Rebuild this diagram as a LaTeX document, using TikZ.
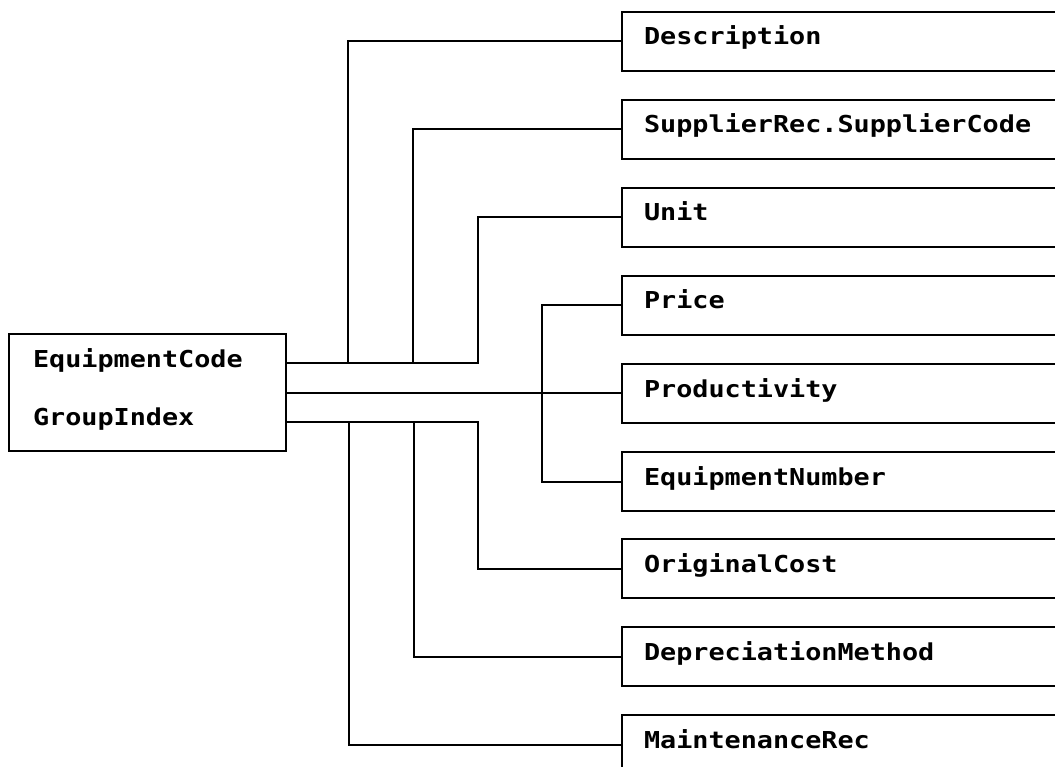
\documentclass[tikz,border=0pt]{standalone}
\usepackage{fontspec}
\newfontfamily\pixfont[FakeStretch=1.15]{DejaVu Sans Mono}
\begin{document}
\begin{tikzpicture}[x=1pt,y=1pt,
  line width=2pt,
  fieldbox/.style={draw, rectangle, anchor=north west, minimum width=520pt, minimum height=59pt, inner sep=0pt},
  srcbox/.style={draw, rectangle, anchor=north west, minimum width=277pt, minimum height=117pt, inner sep=0pt},
  lbl/.style={anchor=base west, inner sep=0pt, font=\pixfont\fontsize{23.3}{24}\selectfont\bfseries},
  conn/.style={line width=2pt}]
\useasboundingbox (0,0) rectangle (1055,-767);
\clip (0,0) rectangle (1055,-767);
\fill[white] (0,0) rectangle (1055,-767);
% source box
\node[srcbox] (src) at (8,-333) {};
\node[lbl] (srcA) at (32,-367) {EquipmentCode};
\node[lbl] (srcB) at (32,-425) {GroupIndex};
% field boxes
\node[fieldbox] (desc)  at (621,-11)  {};
\node[fieldbox] (supp)  at (621,-99)  {};
\node[fieldbox] (unit)  at (621,-187) {};
\node[fieldbox] (price) at (621,-275) {};
\node[fieldbox] (prod)  at (621,-363) {};
\node[fieldbox] (eqn)   at (621,-451) {};
\node[fieldbox] (orig)  at (621,-538) {};
\node[fieldbox] (depr)  at (621,-626) {};
\node[fieldbox] (maint) at (621,-714) {};
\node[lbl] (descL)  at (643,-45)  {Description};
\node[lbl] (suppL)  at (643,-133) {SupplierRec.SupplierCode};
\node[lbl] (unitL)  at (643,-221) {Unit};
\node[lbl] (priceL) at (643,-309) {Price};
\node[lbl] (prodL)  at (643,-397) {Productivity};
\node[lbl] (eqnL)   at (643,-485) {EquipmentNumber};
\node[lbl] (origL)  at (643,-572) {OriginalCost};
\node[lbl] (deprL)  at (643,-660) {DepreciationMethod};
\node[lbl] (maintL) at (643,-748) {MaintenanceRec};
% junction coordinates
\coordinate (jt) at (src.east |- 0,-363);
\coordinate (jm) at (src.east |- 0,-393);
\coordinate (jb) at (src.east |- 0,-422);
% upper branch
\draw[conn] (jt) -- (478,-363) |- (unit.west);
\draw[conn] (348,-363) |- (desc.west);
\draw[conn] (413,-363) |- (supp.west);
% middle branch
\draw[conn] (jm) -- (prod.west |- jm);
\draw[conn] (price.west) -| ([xshift=-79pt]eqn.west) -- (eqn.west);
% lower branch
\draw[conn] (jb) -- (478,-422) |- (orig.west);
\draw[conn] (349,-422) |- (maint.west);
\draw[conn] (414,-422) |- (depr.west);
\end{tikzpicture}
\end{document}
